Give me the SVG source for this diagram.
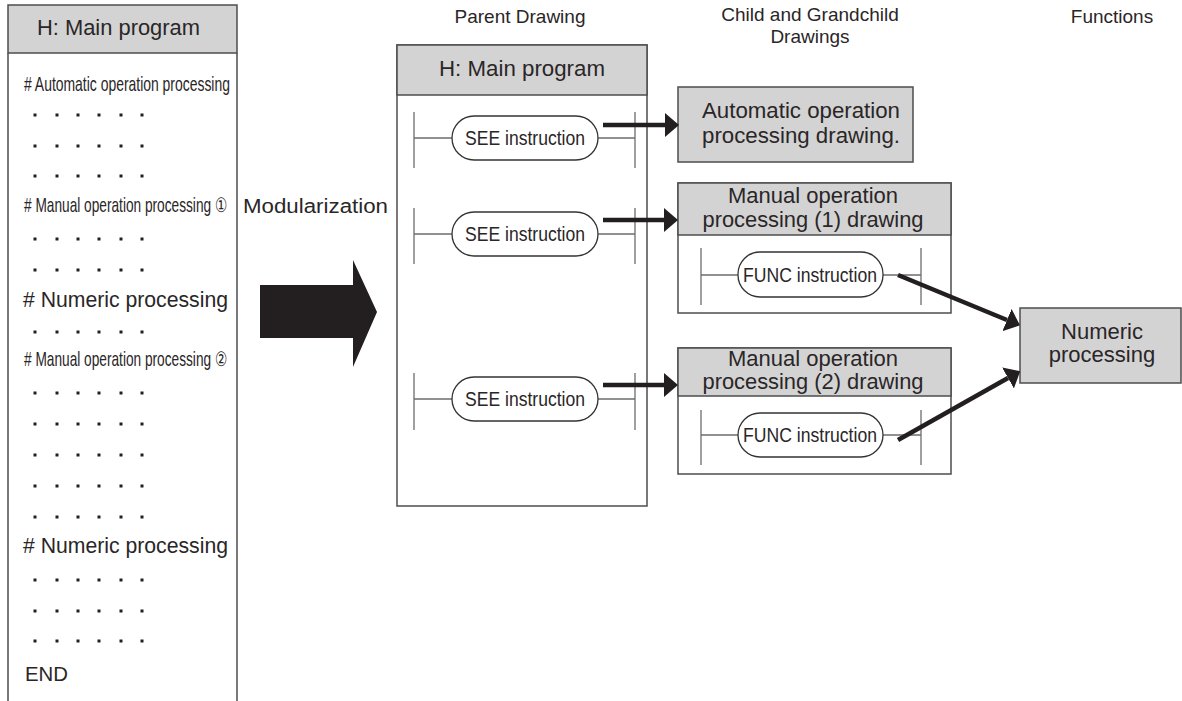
<svg xmlns="http://www.w3.org/2000/svg" xmlns:xlink="http://www.w3.org/1999/xlink" width="1182" height="701" viewBox="0 0 1182 701">
  <style>
    text { font-family: "Liberation Sans", Arial, Helvetica, sans-serif; fill: #2a2627; }
    .hdr { fill: #d3d3d3; stroke: #4d4d4d; stroke-width: 1.5; }
    .box { fill: #ffffff; stroke: #4d4d4d; stroke-width: 1.5; }
    .frame { fill: none; stroke: #4d4d4d; stroke-width: 1.5; }
    .rail { fill: none; stroke: #6d6d6d; stroke-width: 1.3; }
    .pill { fill: #ffffff; stroke: #333333; stroke-width: 1.3; }
    .t22 { font-size: 22px; }
    .t20 { font-size: 20px; }
    .t19 { font-size: 19px; }
    .mid { text-anchor: middle; }
    .ins { font-size: 21px; text-anchor: middle; }
    .arrow { fill: none; stroke: #231f20; stroke-width: 4.5; }
  </style>
  <defs>
    <marker id="head" markerUnits="userSpaceOnUse" markerWidth="14" markerHeight="24" viewBox="0 0 14 24" refX="0" refY="12" orient="auto">
      <path d="M0,0 L14,12 L0,24 Z" fill="#231f20"/>
    </marker>
    <!-- one row of "......" placeholder marks -->
    <g id="dots" fill="#231f20">
      <rect x="33.5" y="-1.5" width="3" height="3"/>
      <rect x="55.5" y="-1.5" width="3" height="3"/>
      <rect x="76.5" y="-1.5" width="3" height="3"/>
      <rect x="97.5" y="-1.5" width="3" height="3"/>
      <rect x="119.5" y="-1.5" width="3" height="3"/>
      <rect x="140.5" y="-1.5" width="3" height="3"/>
    </g>
  </defs>

  <rect width="1182" height="701" fill="#ffffff"/>

  <!-- column titles -->
  <g id="titles">
    <text class="t19 mid" x="520" y="23">Parent Drawing</text>
    <text class="t19 mid" x="810" y="21">Child and Grandchild</text>
    <text class="t19 mid" x="810" y="43">Drawings</text>
    <text class="t19 mid" x="1112" y="23">Functions</text>
  </g>

  <!-- flat program listing -->
  <g id="listing">
    <rect class="hdr" x="8" y="5" width="229" height="48"/>
    <path class="frame" d="M8,53 V701 M237,53 V701"/>
    <text class="t22" x="37" y="35" textLength="163" lengthAdjust="spacingAndGlyphs">H: Main program</text>
    <text class="t20" transform="translate(24,91) scale(0.69,1)" textLength="298.5" lengthAdjust="spacingAndGlyphs"># Automatic operation processing</text>
    <use xlink:href="#dots" y="115"/>
    <use xlink:href="#dots" y="146"/>
    <use xlink:href="#dots" y="176"/>
    <text class="t20" transform="translate(24,212) scale(0.69,1)" textLength="294" lengthAdjust="spacingAndGlyphs"># Manual operation processing ①</text>
    <use xlink:href="#dots" y="239"/>
    <use xlink:href="#dots" y="270"/>
    <text class="t22" x="23" y="307" textLength="205" lengthAdjust="spacingAndGlyphs"># Numeric processing</text>
    <use xlink:href="#dots" y="332"/>
    <text class="t20" transform="translate(24,366) scale(0.69,1)" textLength="294" lengthAdjust="spacingAndGlyphs"># Manual operation processing ②</text>
    <use xlink:href="#dots" y="393"/>
    <use xlink:href="#dots" y="424"/>
    <use xlink:href="#dots" y="455"/>
    <use xlink:href="#dots" y="486"/>
    <use xlink:href="#dots" y="517"/>
    <text class="t22" x="23" y="553" textLength="205" lengthAdjust="spacingAndGlyphs"># Numeric processing</text>
    <use xlink:href="#dots" y="580"/>
    <use xlink:href="#dots" y="611"/>
    <use xlink:href="#dots" y="641"/>
    <text class="t20" x="25" y="681" textLength="43" lengthAdjust="spacingAndGlyphs">END</text>
  </g>

  <!-- modularization step -->
  <g id="modularization">
    <text class="t20" x="243" y="213" textLength="145" lengthAdjust="spacingAndGlyphs">Modularization</text>
    <polygon points="260,285 353,285 353,260 377,312 353,367 353,338 260,338" fill="#231f20"/>
  </g>

  <!-- parent drawing -->
  <g id="parent">
    <rect class="box" x="397" y="45" width="250" height="461"/>
    <rect class="hdr" x="397" y="45" width="250" height="50"/>
    <text class="t22 mid" x="522" y="76" textLength="166" lengthAdjust="spacingAndGlyphs">H: Main program</text>
  </g>
  <g id="see1">
    <path class="rail" d="M414,112 V168 M635,112 V168 M414,138 H452 M598,138 H635"/>
    <rect class="pill" x="452" y="116" width="146" height="44" rx="22"/>
    <text class="ins" x="525" y="145" textLength="120" lengthAdjust="spacingAndGlyphs">SEE instruction</text>
  </g>
  <g id="see2">
    <path class="rail" d="M414,208 V264 M635,208 V264 M414,234 H452 M598,234 H635"/>
    <rect class="pill" x="452" y="212" width="146" height="44" rx="22"/>
    <text class="ins" x="525" y="241" textLength="120" lengthAdjust="spacingAndGlyphs">SEE instruction</text>
  </g>
  <g id="see3">
    <path class="rail" d="M414,373 V430 M635,373 V430 M414,399 H452 M598,399 H635"/>
    <rect class="pill" x="452" y="377" width="146" height="44" rx="22"/>
    <text class="ins" x="525" y="406" textLength="120" lengthAdjust="spacingAndGlyphs">SEE instruction</text>
  </g>

  <!-- child drawings -->
  <g id="auto">
    <rect class="hdr" x="678" y="87" width="235" height="75"/>
    <text class="t22 mid" x="801" y="118" textLength="198" lengthAdjust="spacingAndGlyphs">Automatic operation</text>
    <text class="t22 mid" x="801" y="143" textLength="198" lengthAdjust="spacingAndGlyphs">processing drawing.</text>
  </g>
  <g id="manual1">
    <rect class="box" x="678" y="183" width="273" height="130"/>
    <rect class="hdr" x="678" y="183" width="273" height="52"/>
    <text class="t22 mid" x="813" y="203" textLength="170" lengthAdjust="spacingAndGlyphs">Manual operation</text>
    <text class="t22 mid" x="813" y="227" textLength="221" lengthAdjust="spacingAndGlyphs">processing (1) drawing</text>
    <path class="rail" d="M701,248 V305 M921,248 V305 M701,275 H738 M883,275 H921"/>
    <rect class="pill" x="738" y="252" width="145" height="45" rx="22"/>
    <text class="ins" x="810" y="282" textLength="134" lengthAdjust="spacingAndGlyphs">FUNC instruction</text>
  </g>
  <g id="manual2">
    <rect class="box" x="678" y="348" width="273" height="126"/>
    <rect class="hdr" x="678" y="348" width="273" height="48"/>
    <text class="t22 mid" x="813" y="366" textLength="170" lengthAdjust="spacingAndGlyphs">Manual operation</text>
    <text class="t22 mid" x="813" y="389" textLength="221" lengthAdjust="spacingAndGlyphs">processing (2) drawing</text>
    <path class="rail" d="M701,410 V465 M921,410 V465 M701,435 H738 M883,435 H921"/>
    <rect class="pill" x="738" y="413" width="145" height="44" rx="22"/>
    <text class="ins" x="810" y="442" textLength="134" lengthAdjust="spacingAndGlyphs">FUNC instruction</text>
  </g>

  <!-- function -->
  <g id="numeric">
    <rect class="hdr" x="1020" y="308" width="161" height="75"/>
    <text class="t22 mid" x="1102" y="339">Numeric</text>
    <text class="t22 mid" x="1102" y="362">processing</text>
  </g>

  <!-- calls -->
  <g id="connectors">
    <line class="arrow" x1="603" y1="125" x2="665" y2="125" marker-end="url(#head)"/>
    <line class="arrow" x1="603" y1="220" x2="664" y2="220" marker-end="url(#head)"/>
    <line class="arrow" x1="603" y1="385" x2="664" y2="385" marker-end="url(#head)"/>
    <line class="arrow" x1="898" y1="275" x2="1007" y2="320" marker-end="url(#head)"/>
    <line class="arrow" x1="898" y1="440" x2="1008" y2="378" marker-end="url(#head)"/>
  </g>
</svg>
